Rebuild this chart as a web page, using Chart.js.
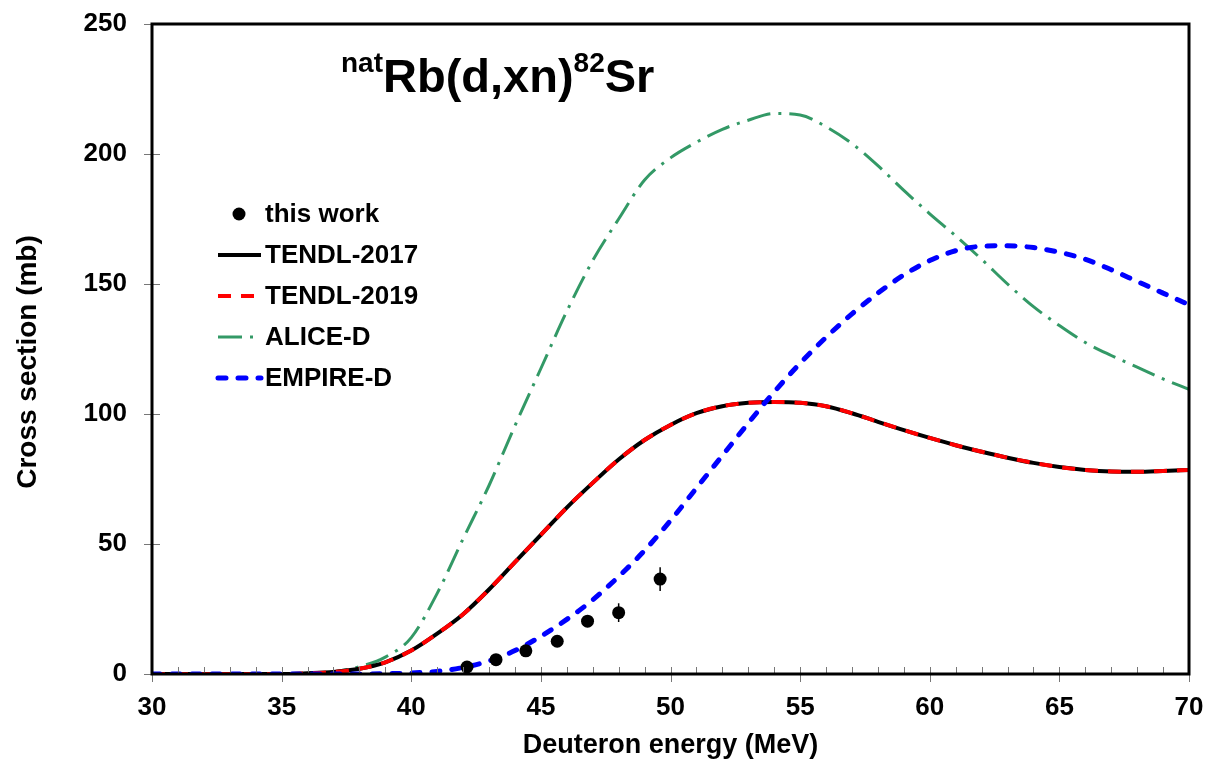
<!DOCTYPE html>
<html>
<head>
<meta charset="utf-8">
<script src="https://cdn.jsdelivr.net/npm/chart.js@4.4.1/dist/chart.umd.min.js"></script>
<style>
  html, body { margin: 0; padding: 0; background: #fff; }
  #wrap { position: relative; width: 1206px; height: 768px; }
  #title {
    position: absolute; left: 341px; top: 52px;
    font-family: "Liberation Sans", Arial, sans-serif; font-weight: bold;
    font-size: 47px; line-height: 1; color: #000; white-space: nowrap;
  }
  #title sup { font-size: 28px; vertical-align: top; position: relative; top: -3px; }
</style>
</head>
<body>
<div id="wrap">
  <canvas id="c" width="1206" height="768"></canvas>
  <div id="title"><sup>nat</sup>Rb(d,xn)<sup>82</sup>Sr</div>
</div>
<script>
// model curves, sampled every 1 MeV
const energy = [30, 31, 32, 33, 34, 35, 36, 37, 38, 39, 40, 41, 42, 43, 44, 45, 46, 47, 48, 49, 50,
                51, 52, 53, 54, 55, 56, 57, 58, 59, 60, 61, 62, 63, 64, 65, 66, 67, 68, 69, 70];
const tendl2017 = [0, 0, 0, 0, 0, 0, 0.3, 0.8, 2, 4.5, 9, 15.5, 23, 32.5, 43, 53.5, 64, 73.5, 82.5, 90, 95.8,
                   100.3, 103, 104.3, 104.6, 104.3, 103, 100.3, 97, 93.8, 90.8, 88, 85.5, 83.2, 81.2, 79.6, 78.5, 77.9, 77.8, 78.1, 78.5];
const tendl2019 = [0, 0, 0, 0, 0, 0, 0.3, 0.8, 2, 4.5, 9, 15.5, 23, 32.5, 43, 53.5, 64, 73.5, 82.5, 90, 95.8,
                   100.3, 103, 104.3, 104.6, 104.3, 103, 100.3, 97, 93.8, 90.8, 88, 85.5, 83.2, 81.2, 79.6, 78.5, 77.9, 77.8, 78.1, 78.5];
const aliceD = [0, 0, 0, 0, 0, 0, 0.2, 0.8, 2.8, 6.5, 14, 31, 52, 72.5, 95.5, 117.5, 139.5, 159, 175, 190, 198.5,
                204.5, 209.5, 213, 215.6, 215, 210.5, 204, 195.5, 186, 177, 168.5, 159.5, 150, 141.3, 134, 127.5, 122.5, 118, 113.5, 109.5];
const empireD = [0, 0, 0, 0, 0, 0, 0, 0, 0, 0.1, 0.4, 1, 2.5, 5, 9, 14.5, 21, 28.5, 37.5, 47.5, 59,
                 71.5, 84, 96.5, 108.5, 119.5, 129.5, 138.5, 146.5, 153.5, 159, 162.8, 164.5, 164.7, 164, 162.2, 159.5, 155.5, 151, 146.5, 142];

// measured points (this work)
const expE = [42.15, 43.27, 44.42, 45.63, 46.8, 48.0, 49.6];
const expSigma = [2.7, 5.5, 8.9, 12.6, 20.3, 23.6, 36.5];
const expErr = [0.4, 0.6, 0.9, 1.2, 2.0, 3.6, 4.6];

const FONT = '"Liberation Sans", Arial, sans-serif';

const curve = (arr) => energy.map((e, i) => ({ x: e, y: arr[i] }));
const expPts = expE.map((e, i) => ({ x: e, y: expSigma[i] }));

// error bars under the markers
const errorBars = {
  id: 'errorBars',
  beforeDatasetDraw(chart, args) {
    if (args.index !== 0) return;
    const { ctx, scales: { x, y } } = chart;
    ctx.save();
    ctx.strokeStyle = '#000';
    ctx.lineWidth = 1.5;
    expE.forEach((e, i) => {
      const px = x.getPixelForValue(e);
      ctx.beginPath();
      ctx.moveTo(px, y.getPixelForValue(expSigma[i] - expErr[i]));
      ctx.lineTo(px, y.getPixelForValue(expSigma[i] + expErr[i]));
      ctx.stroke();
    });
    ctx.restore();
  }
};

// plot frame, tick marks and the y axis title (sits a bit below centre)
const frame = {
  id: 'frame',
  afterDatasetsDraw(chart) {
    const { ctx, chartArea: a, scales: { x, y } } = chart;
    ctx.save();
    ctx.strokeStyle = '#777';
    ctx.lineWidth = 1;
    x.ticks.forEach(t => {
      const px = Math.round(x.getPixelForValue(t.value)) + 0.5;
      ctx.beginPath();
      ctx.moveTo(px, a.bottom - 7);
      ctx.lineTo(px, t.value % 5 === 0 ? a.bottom + 8 : a.bottom);
      ctx.stroke();
    });
    y.ticks.forEach(t => {
      const py = Math.round(y.getPixelForValue(t.value)) + 0.5;
      ctx.beginPath();
      ctx.moveTo(a.left - 8, py);
      ctx.lineTo(a.left + 8, py);
      ctx.stroke();
    });
    ctx.strokeStyle = '#000';
    ctx.lineWidth = 3;
    ctx.strokeRect(a.left, a.top, a.right - a.left, a.bottom - a.top);

    ctx.translate(28, 362);
    ctx.rotate(-Math.PI / 2);
    ctx.font = 'bold 28px ' + FONT;
    ctx.fillStyle = '#000';
    ctx.textAlign = 'center';
    ctx.textBaseline = 'middle';
    ctx.fillText('Cross section (mb)', 0, 0);
    ctx.restore();
  }
};

// legend inside the plot
const innerLegend = {
  id: 'innerLegend',
  afterDraw(chart) {
    const { ctx } = chart;
    ctx.save();
    ctx.font = 'bold 26px ' + FONT;
    ctx.textBaseline = 'middle';
    chart.data.datasets.forEach((ds, i) => {
      const yy = 214 + i * 41;
      if (ds.showLine === false) {
        ctx.fillStyle = '#000';
        ctx.beginPath();
        ctx.arc(239, yy, 6.5, 0, Math.PI * 2);
        ctx.fill();
      } else {
        ctx.strokeStyle = ds.borderColor;
        ctx.lineWidth = ds.borderWidth;
        ctx.lineCap = ds.borderCapStyle || 'butt';
        ctx.setLineDash(ds.borderDash || []);
        ctx.beginPath();
        ctx.moveTo(218, yy);
        ctx.lineTo(261, yy);
        ctx.stroke();
        ctx.setLineDash([]);
      }
      ctx.fillStyle = '#000';
      ctx.fillText(ds.label, 265, yy + 1);
    });
    ctx.restore();
  }
};

new Chart(document.getElementById('c'), {
  type: 'line',
  data: {
    datasets: [
      {
        label: 'this work', data: expPts, showLine: false,
        pointRadius: 6.5, pointBackgroundColor: '#000', pointBorderWidth: 0, order: 0
      },
      {
        label: 'TENDL-2017', data: curve(tendl2017), borderColor: '#000', borderWidth: 4,
        pointRadius: 0, cubicInterpolationMode: 'monotone', order: 3
      },
      {
        label: 'TENDL-2019', data: curve(tendl2019), borderColor: '#ff0000', borderWidth: 4,
        borderDash: [13, 10], pointRadius: 0, cubicInterpolationMode: 'monotone', order: 2
      },
      {
        label: 'ALICE-D', data: curve(aliceD), borderColor: '#339966', borderWidth: 3,
        borderDash: [24, 8, 3, 8], pointRadius: 0, cubicInterpolationMode: 'monotone', order: 4
      },
      {
        label: 'EMPIRE-D', data: curve(empireD), borderColor: '#0000ff', borderWidth: 5,
        borderDash: [8, 12], borderCapStyle: 'round', pointRadius: 0, cubicInterpolationMode: 'monotone', order: 1
      }
    ]
  },
  options: {
    responsive: false,
    animation: false,
    layout: { padding: { top: 24, right: 17, left: 0, bottom: 0 } },
    plugins: { legend: { display: false }, tooltip: { enabled: false } },
    scales: {
      x: {
        type: 'linear', min: 30, max: 70,
        afterFit: (s) => { s.height = 94; s.paddingLeft = 0; s.paddingRight = 0; },
        grid: { drawOnChartArea: false, drawTicks: false },
        border: { display: false },
        ticks: {
          stepSize: 1, autoSkip: false, maxRotation: 0, padding: 18, color: '#000',
          font: { family: FONT, size: 26, weight: 'bold' },
          callback: (v) => (v % 5 === 0 ? v : '')
        },
        title: {
          display: true, text: 'Deuteron energy (MeV)', color: '#000',
          font: { family: FONT, size: 27, weight: 'bold' }, padding: { top: 0, bottom: 6 }
        }
      },
      y: {
        min: 0, max: 250,
        afterFit: (s) => { s.width = 152; s.paddingTop = 0; s.paddingBottom = 0; },
        grid: { drawOnChartArea: false, drawTicks: false },
        border: { display: false },
        ticks: {
          stepSize: 50, padding: 25, color: '#000',
          font: { family: FONT, size: 26, weight: 'bold' }
        }
      }
    }
  },
  plugins: [errorBars, frame, innerLegend]
});
</script>
</body>
</html>
